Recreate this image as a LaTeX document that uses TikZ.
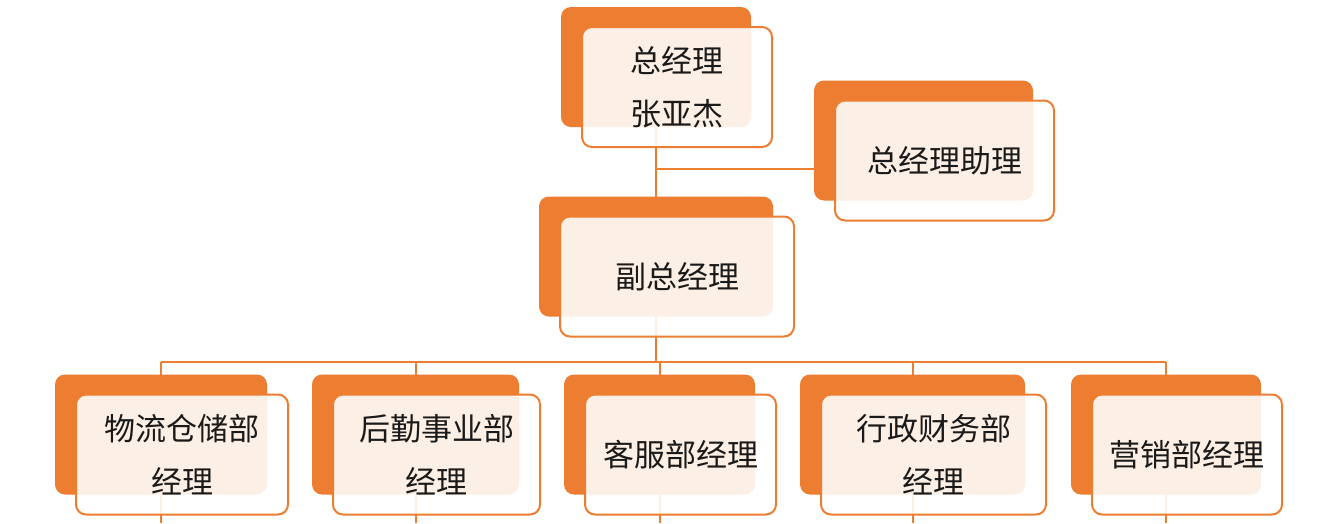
\documentclass[tikz,border=0pt]{standalone}
\usepackage{fontspec}
\newfontfamily\cjk{Noto Sans CJK SC}
\definecolor{org}{HTML}{ED7D31}
\definecolor{txt}{HTML}{1A1A1A}
\pgfdeclarelayer{bg}
\pgfsetlayers{bg,main}
\tikzset{
  backbox/.style={fill=org, draw=none, rounded corners=10pt, minimum height=120pt, inner sep=0pt},
  frontbox/.style={fill=white, fill opacity=0.88, text opacity=1, draw=org, draw opacity=1, line width=2pt,
     rounded corners=10pt, minimum height=120pt, inner sep=0pt, align=center, text=txt,
     font=\cjk\fontsize{31}{53}\selectfont},
  conn/.style={draw=org, line width=2pt}
}
\newcommand{\orgbox}[5]{%
  \node[backbox, minimum width=#4pt] (#1b) at (#2,#3) {};
  \node[frontbox, minimum width=#4pt] (#1) at (#2+21,#3+20) {#5};
}
\begin{document}
\begin{tikzpicture}[x=1pt,y=-1pt]
\useasboundingbox (0,0) rectangle (1329,523);
\orgbox{top}{656}{67}{190}{总经理\\张亚杰}
\orgbox{asst}{923.5}{140.5}{219}{总经理助理}
\orgbox{vice}{656}{256.5}{234}{副总经理}
\orgbox{d1}{161}{434.5}{212}{物流仓储部\\经理}
\orgbox{d2}{415.5}{434.5}{207}{后勤事业部\\经理}
\orgbox{d3}{659.5}{434.5}{191}{客服部经理}
\orgbox{d4}{912.5}{434.5}{225}{行政财务部\\经理}
\orgbox{d5}{1166}{434.5}{190}{营销部经理}
\coordinate (bus) at (656,362);
\coordinate (j) at (0,169);
\coordinate (bot) at (0,523);
\begin{pgfonlayer}{bg}
\fill[white] (0,0) rectangle (1329,523);
\draw[conn] (topb.center) -- (bus);
\draw[conn] (topb.center |- j) -- (asstb.west |- j);
\draw[conn] (d1b.center |- bus) -- (d5b.center |- bus);
\foreach \n in {d1,d2,d3,d4,d5}{
  \draw[conn] (\n b.center |- bus) -- (\n b.center |- bot);
}
\end{pgfonlayer}
\end{tikzpicture}
\end{document}
